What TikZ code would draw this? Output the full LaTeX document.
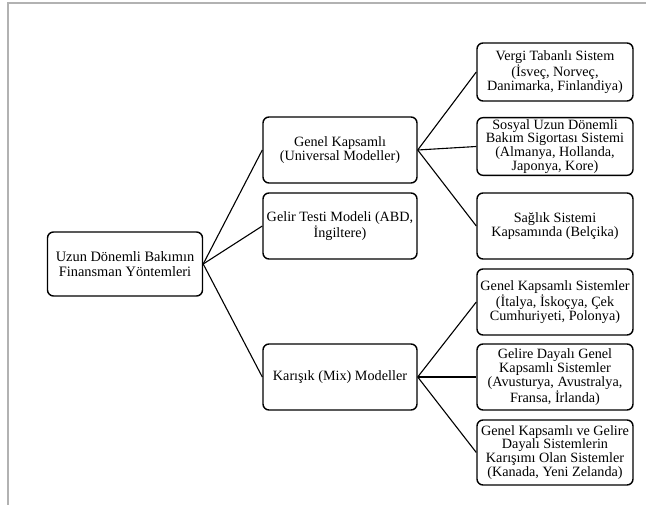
\documentclass[tikz,border=0pt]{standalone}
\usepackage{fontspec}
\setmainfont{Liberation Serif}
\usetikzlibrary{positioning}

\tikzset{
    kutu/.style={draw, rounded corners=6pt, line width=1.4pt, align=center,
        inner sep=1.5pt, font=\fontsize{14.2}{12.4}\selectfont},
    orta/.style={kutu, minimum width=154pt, minimum height=66pt},
    sag/.style={kutu, minimum width=156pt},
    bag/.style={line width=1.1pt}
}

\begin{document}
\begin{tikzpicture}[x=1pt,y=-1pt]
    \useasboundingbox (0,0) rectangle (646,505);
    % page frame
    \draw[black!30, line width=2pt] (7.5,505) -- (7.5,3) -- (646,3);

    % root
    \node[kutu, minimum width=155pt, minimum height=64pt,
        font=\fontsize{14.4}{15}\selectfont] (kok) at (125,264)
        {Uzun Dönemli Bakımın\\Finansman Yöntemleri};

    % middle column
    \node[orta] (genel) at (340,150) {Genel Kapsamlı\\(Universal Modeller)};
    \node[orta] (gelir) at (340,226) {Gelir Testi Modeli (ABD,\\İngiltere)};
    \node[orta] (karisik) at (340,377) {Karışık (Mix) Modeller};

    % right column
    \node[sag, minimum height=58pt] (vergi) at (555,72)
        {Vergi Tabanlı Sistem\\(İsveç, Norveç,\\Danimarka, Finlandiya)};
    \node[sag, minimum height=57pt] (sosyal) at (555,146.5)
        {Sosyal Uzun Dönemli\\Bakım Sigortası Sistemi\\(Almanya, Hollanda,\\Japonya, Kore)};
    \node[sag, minimum height=66pt] (saglik) at (555,226)
        {Sağlık Sistemi\\Kapsamında (Belçika)};
    \node[sag, minimum height=66pt] (gks) at (555,302)
        {Genel Kapsamlı Sistemler\\(İtalya, İskoçya, Çek\\Cumhuriyeti, Polonya)};
    \node[sag, minimum height=66pt] (gdgk) at (555,377)
        {Gelire Dayalı Genel\\Kapsamlı Sistemler\\(Avusturya, Avustralya,\\Fransa, İrlanda)};
    \node[sag, minimum height=65pt] (karma) at (555,452.5)
        {Genel Kapsamlı ve Gelire\\Dayalı Sistemlerin\\Karışımı Olan Sistemler\\(Kanada, Yeni Zelanda)};

    % connectors
    \foreach \a/\b in {kok/genel, kok/gelir, kok/karisik,
                       genel/vergi, genel/sosyal, genel/saglik,
                       karisik/gks, karisik/gdgk, karisik/karma} {
        \draw[bag] (\a.east) -- (\b.west);
    }
\end{tikzpicture}
\end{document}
